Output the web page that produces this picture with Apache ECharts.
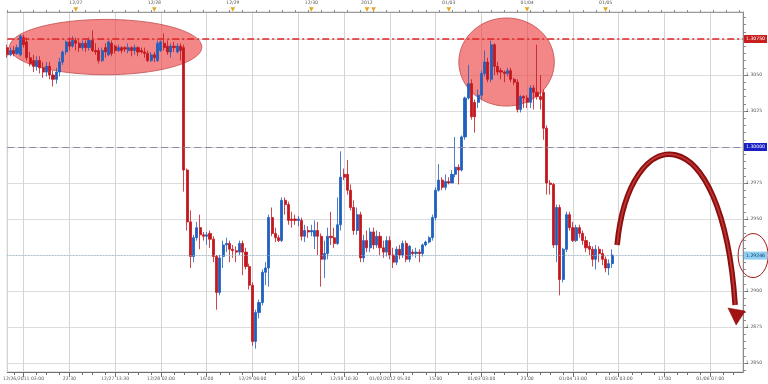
<!DOCTYPE html>
<html><head><meta charset="utf-8">
<script src="https://cdn.jsdelivr.net/npm/echarts@6/dist/echarts.min.js"></script>
<style>html,body{margin:0;padding:0;background:#fff}#c{width:768px;height:384px}</style>
</head><body><div id="c"></div>
<script>
// ---- categories (hourly bar slots) ----
const slotCount = 226;
const slots = Array.from({length: slotCount}, (_, i) => String(i));

// ---- tick labels ----
const bottomLabels = ['12/26/2011 03:00','22:30','12/27 13:30','12/28 02:00','16:00','12/29 06:00','20:30','12/30 10:30',
  '01/02/2012 05:30','15:00','01/03 03:00','23:00','01/04 13:00','01/05 03:00','17:00','01/06 07:00'];
const topDayLabels = ['12/27','12/28','12/29','12/30','2012','','01/03','01/04','01/05'];
const topDaySlots = [21,45,69,93,110,112,135,159,183];
const yGridValues = [1.2850,1.2875,1.2900,1.2925,1.2950,1.2975,1.3000,1.3025,1.3050,1.3075];
const yLabelValues = [1.2850,1.2875,1.2900,1.2950,1.2975,1.3025,1.3050];

// ---- levels ----
const resistanceLevel = 1.3075;
const pivotLevel = 1.3000;
const lastPrice = 1.29246;

// ---- candles [open, close, low, high] ----
const dec26to28 = [
[1.3069,1.3064,1.3062,1.3071],[1.3064,1.3067,1.3063,1.3069],[1.3067,1.3065,1.3063,1.3070],[1.3065,1.3069,1.3064,1.3071],
[1.3064,1.3077,1.3063,1.3078],[1.3076,1.3071,1.3069,1.3078],[1.3073,1.3062,1.3060,1.3076],[1.3062,1.3058,1.3056,1.3066],
[1.3060,1.3056,1.3052,1.3064],[1.3056,1.3060,1.3053,1.3063],[1.3060,1.3055,1.3051,1.3063],[1.3055,1.3052,1.3048,1.3059],
[1.3052,1.3056,1.3049,1.3059],[1.3056,1.3050,1.3047,1.3059],[1.3050,1.3047,1.3042,1.3053],[1.3047,1.3052,1.3044,1.3055],
[1.3052,1.3059,1.3049,1.3062],[1.3059,1.3066,1.3057,1.3067],[1.3066,1.3073,1.3064,1.3074],[1.3073,1.3070,1.3067,1.3076],
[1.3070,1.3074,1.3069,1.3077],[1.3074,1.3072,1.3067,1.3076],[1.3072,1.3069,1.3066,1.3074],[1.3069,1.3072,1.3067,1.3074],
[1.3072,1.3069,1.3066,1.3074],[1.3069,1.3074,1.3067,1.3076],[1.3074,1.3067,1.3066,1.3081],[1.3067,1.3066,1.3064,1.3072],
[1.3067,1.3060,1.3058,1.3069],[1.3060,1.3067,1.3059,1.3069],[1.3069,1.3066,1.3062,1.3072],[1.3064,1.3073,1.3063,1.3074],
[1.3072,1.3065,1.3063,1.3074],[1.3070,1.3067,1.3065,1.3071],[1.3067,1.3069,1.3066,1.3071],[1.3069,1.3067,1.3065,1.3070],
[1.3069,1.3068,1.3066,1.3070],[1.3067,1.3069,1.3065,1.3072],[1.3069,1.3067,1.3063,1.3070],[1.3067,1.3069,1.3064,1.3071],
[1.3069,1.3066,1.3063,1.3070],[1.3067,1.3066,1.3065,1.3069],[1.3066,1.3065,1.3062,1.3069],[1.3065,1.3060,1.3059,1.3067],
[1.3060,1.3064,1.3059,1.3066],[1.3064,1.3062,1.3059,1.3066],[1.3060,1.3072,1.3059,1.3074],[1.3067,1.3073,1.3066,1.3074],
[1.3072,1.3069,1.3067,1.3079],[1.3070,1.3066,1.3064,1.3074],[1.3066,1.3070,1.3062,1.3072],[1.3070,1.3069,1.3066,1.3073],
[1.3066,1.3070,1.3065,1.3072],[1.3070,1.3067,1.3060,1.3072]
];
const dec28to30 = [
[1.3069,1.2984,1.2969,1.3071],[1.2984,1.2948,1.2942,1.2985],[1.2948,1.2924,1.2916,1.2956],[1.2924,1.2937,1.2920,1.2939],
[1.2937,1.2944,1.2935,1.2948],[1.2944,1.2939,1.2929,1.2953],[1.2939,1.2938,1.2935,1.2941],[1.2938,1.2939,1.2932,1.2941],
[1.2940,1.2936,1.2930,1.2942],[1.2936,1.2924,1.2920,1.2938],[1.2924,1.2899,1.2887,1.2925],[1.2899,1.2923,1.2897,1.2925],
[1.2924,1.2932,1.2916,1.2935],[1.2932,1.2933,1.2927,1.2937],[1.2933,1.2929,1.2920,1.2935],[1.2929,1.2928,1.2923,1.2932],
[1.2928,1.2927,1.2920,1.2931],[1.2927,1.2933,1.2925,1.2935],[1.2933,1.2927,1.2911,1.2935],[1.2927,1.2917,1.2915,1.2930],
[1.2917,1.2904,1.2901,1.2919],[1.2904,1.2865,1.2862,1.2906],[1.2865,1.2885,1.2860,1.2887],[1.2885,1.2892,1.2881,1.2894],
[1.2892,1.2913,1.2890,1.2915],[1.2913,1.2916,1.2904,1.2920],[1.2916,1.2951,1.2903,1.2953],[1.2951,1.2940,1.2938,1.2958],
[1.2940,1.2937,1.2934,1.2944],[1.2937,1.2935,1.2934,1.2939],[1.2935,1.2963,1.2934,1.2965],[1.2963,1.2960,1.2953,1.2965],
[1.2960,1.2949,1.2946,1.2962],[1.2950,1.2949,1.2944,1.2955],[1.2950,1.2949,1.2946,1.2953],[1.2949,1.2950,1.2945,1.2952],
[1.2949,1.2938,1.2935,1.2951],[1.2938,1.2942,1.2934,1.2946],[1.2942,1.2941,1.2937,1.2945],[1.2941,1.2942,1.2938,1.2946],
[1.2938,1.2942,1.2929,1.2949],[1.2942,1.2938,1.2925,1.2948],[1.2938,1.2922,1.2903,1.2940],[1.2922,1.2926,1.2909,1.2935],
[1.2926,1.2938,1.2922,1.2944],[1.2938,1.2937,1.2932,1.2955],[1.2937,1.2933,1.2930,1.2944],[1.2933,1.2946,1.2932,1.2965],
[1.2946,1.2979,1.2942,1.2997],[1.2981,1.2979,1.2977,1.2985],[1.2981,1.2970,1.2967,1.2991],[1.2970,1.2958,1.2956,1.2974]
];
const dec30toJan02 = [
[1.2958,1.2942,1.2939,1.2963],[1.2942,1.2953,1.2939,1.2958],[1.2953,1.2923,1.2920,1.2955],[1.2923,1.2935,1.2920,1.2939],
[1.2935,1.2930,1.2927,1.2942],[1.2930,1.2941,1.2927,1.2944],[1.2941,1.2932,1.2929,1.2944],[1.2932,1.2938,1.2930,1.2942],
[1.2938,1.2930,1.2925,1.2941],[1.2930,1.2927,1.2923,1.2935],[1.2927,1.2935,1.2924,1.2938],[1.2935,1.2925,1.2922,1.2938],
[1.2925,1.2920,1.2916,1.2930],[1.2920,1.2929,1.2918,1.2931],[1.2929,1.2925,1.2922,1.2932],[1.2925,1.2933,1.2923,1.2935]
];
const jan02to05 = [
[1.2933,1.2922,1.2920,1.2935],[1.2922,1.2931,1.2920,1.2932],[1.2927,1.2926,1.2924,1.2929],[1.2926,1.2927,1.2923,1.2930],
[1.2927,1.2926,1.2920,1.2929],[1.2926,1.2932,1.2924,1.2933],[1.2932,1.2934,1.2931,1.2935],[1.2934,1.2937,1.2933,1.2938],
[1.2937,1.2951,1.2935,1.2953],[1.2951,1.2970,1.2949,1.2972],[1.2970,1.2977,1.2969,1.2988],[1.2977,1.2972,1.2970,1.2979],
[1.2972,1.2976,1.2970,1.2981],[1.2976,1.2975,1.2974,1.2979],[1.2975,1.2981,1.2975,1.2984],[1.2981,1.2986,1.2979,1.3007],
[1.2986,1.2984,1.2974,1.2988],[1.2984,1.3007,1.2983,1.3008],[1.3007,1.3034,1.3005,1.3035],[1.3034,1.3044,1.3033,1.3057],
[1.3044,1.3021,1.3019,1.3047],[1.3031,1.3021,1.3010,1.3033],[1.3031,1.3036,1.3027,1.3040],[1.3036,1.3051,1.3033,1.3053],
[1.3051,1.3059,1.3049,1.3067],[1.3059,1.3047,1.3045,1.3062],[1.3047,1.3071,1.3045,1.3074],[1.3071,1.3056,1.3050,1.3072],
[1.3056,1.3052,1.3050,1.3059],[1.3053,1.3052,1.3047,1.3055],[1.3052,1.3051,1.3045,1.3053],[1.3051,1.3053,1.3049,1.3055],
[1.3053,1.3047,1.3045,1.3055],[1.3047,1.3045,1.3043,1.3048],[1.3045,1.3026,1.3024,1.3047],[1.3026,1.3035,1.3024,1.3036],
[1.3035,1.3034,1.3027,1.3036],[1.3034,1.3031,1.3027,1.3036],[1.3031,1.3041,1.3027,1.3043],[1.3041,1.3038,1.3026,1.3043],
[1.3038,1.3035,1.3033,1.3071],[1.3035,1.3033,1.3026,1.3050],[1.3038,1.3013,1.3005,1.3040],[1.3013,1.2975,1.2967,1.3015],
[1.2975,1.2974,1.2967,1.2977],[1.2974,1.2932,1.2930,1.2975],[1.2932,1.2958,1.2920,1.2960],[1.2958,1.2908,1.2897,1.2960],
[1.2908,1.2929,1.2906,1.2930],[1.2929,1.2953,1.2927,1.2955],[1.2953,1.2944,1.2942,1.2955],[1.2944,1.2935,1.2934,1.2948],
[1.2935,1.2944,1.2934,1.2946],[1.2944,1.2940,1.2937,1.2946],[1.2940,1.2935,1.2932,1.2942],[1.2935,1.2930,1.2927,1.2938],
[1.2931,1.2929,1.2925,1.2934],[1.2929,1.2922,1.2917,1.2931],[1.2922,1.2929,1.2915,1.2932],[1.2929,1.2926,1.2920,1.2931],
[1.2926,1.2922,1.2918,1.2929],[1.2922,1.2916,1.2913,1.2924],[1.2916,1.2919,1.2911,1.2922],[1.2919,1.2925,1.2916,1.2929]
];
const candles = [...dec26to28, ...dec28to30, ...dec30toJan02, ...jan02to05];

// ---- annotation anchors in data space (slot, price) ----
const highlightZones = [
  {slot: 30.1, price: 1.30694, slotR: 29.4, priceR: 0.00192},
  {slot: 152.7, price: 1.30590, slotR: 14.6, priceR: 0.00306}
];
const priceTagRing = {slot: 228.1, price: lastPrice, slotR: 4.6, priceR: 0.00153};
const forecastArc = {start: [186.5, 1.29319], cp1: [190.1, 1.30188], cp2: [218.6, 1.30257], end: [222.6, 1.28903]};
const forecastHead = [[220.4, 1.28882], [225.7, 1.28861], [222.9, 1.28764]];

const yMin = 1.284375, yMax = 1.309375;
const yMinorTicks = [];
for (let v = 1.2845; v <= 1.3093; v += 0.0005) yMinorTicks.push(+v.toFixed(4));

const FONT = 'DejaVu Sans';
const labelTxt = {fontFamily: FONT, fontSize: 4.6, color: '#5a5a5a'};
const majorIdx = i => i >= 5 && (i - 5) % 14 === 0;
const minorIdx = i => i >= 0 && [0, 4, 7, 11].includes(((i - 5) % 14 + 14) % 14);

const chart = echarts.init(document.getElementById('c'), null, {renderer: 'canvas'});
chart.setOption({
  animation: false,
  backgroundColor: '#ffffff',
  grid: {left: 2, right: 25, top: 12, bottom: 12, show: true, borderColor: '#c4c4c4', borderWidth: 1},
  xAxis: [
    {type: 'category', data: slots, boundaryGap: false, position: 'bottom',
     axisLine: {lineStyle: {color: '#6e6e6e'}},
     axisTick: {interval: (i) => majorIdx(i), length: 5, lineStyle: {color: '#6e6e6e'}},
     axisLabel: Object.assign({interval: (i) => majorIdx(i), margin: 4,
        formatter: (v, i) => bottomLabels[(i - 5) / 14] || ''}, labelTxt),
     splitLine: {show: true, interval: (i) => majorIdx(i), lineStyle: {color: '#d4d4d4'}}},
    {type: 'category', data: slots, boundaryGap: false, position: 'top',
     axisLine: {lineStyle: {color: '#9a9a9a'}},
     axisTick: {interval: 3, length: 2, lineStyle: {color: '#8a8a8a'}},
     axisLabel: {interval: (i) => topDaySlots.includes(i), margin: 0,
        formatter: (v, i) => {
          const k = topDaySlots.indexOf(i);
          const t = topDayLabels[k];
          return t ? '{d|' + t + '}\n{t|▼}' : '{t|▼}';
        },
        rich: {d: {fontFamily: FONT, fontSize: 4.6, color: '#5a5a5a', lineHeight: 6},
               t: {fontFamily: FONT, fontSize: 6, color: '#e3a623', lineHeight: 6}}},
     splitLine: {show: false}},
    {type: 'category', data: slots, boundaryGap: false, position: 'bottom',
     axisLine: {show: false},
     axisTick: {interval: (i) => minorIdx(i), length: 3, lineStyle: {color: '#6e6e6e'}},
     axisLabel: {show: false}, splitLine: {show: false}}
  ],
  yAxis: [
    {type: 'value', position: 'right', min: yMin, max: yMax,
     axisLine: {show: true, lineStyle: {color: '#8a8a8a'}},
     axisTick: {show: true, customValues: yGridValues, length: 5, lineStyle: {color: '#6e6e6e'}},
     axisLabel: Object.assign({customValues: yLabelValues, margin: 3, formatter: v => v.toFixed(4)}, labelTxt),
     splitLine: {show: true, lineStyle: {color: '#dcdcdc'}}},
    {type: 'value', position: 'right', min: yMin, max: yMax,
     axisLine: {show: false},
     axisTick: {show: true, customValues: yMinorTicks, length: 3, lineStyle: {color: '#8a8a8a'}},
     axisLabel: {show: false}, splitLine: {show: false}}
  ],
  series: [{
    type: 'candlestick', data: candles, xAxisIndex: 0, yAxisIndex: 0,
    barWidth: 2.6, clip: false,
    itemStyle: {color: '#1f5fbf', color0: '#c3161d', borderColor: '#1f5fbf', borderColor0: '#c3161d', borderWidth: 0.8},
    markLine: {
      silent: true, symbol: ['none', 'none'], animation: false, precision: 5,
      label: {position: 'end', distance: 1, fontFamily: FONT, fontSize: 4.6, padding: [2, 2, 1, 2]},
      data: [
        {yAxis: resistanceLevel, lineStyle: {color: '#e02424', type: [7, 3, 2, 3], width: 1.6},
         label: {formatter: resistanceLevel.toFixed(5), backgroundColor: '#c8201e', color: '#ffffff'}},
        {yAxis: pivotLevel, lineStyle: {color: '#8a8aa8', type: [7, 4], width: 1},
         label: {formatter: pivotLevel.toFixed(5), backgroundColor: '#1b20c4', color: '#ffffff'}},
        {yAxis: lastPrice, lineStyle: {color: '#8dbcd8', type: [1, 2], width: 1},
         label: {formatter: lastPrice.toFixed(5), backgroundColor: '#8fd0f2', color: '#1a3a6a'}}
      ]
    }
  }]
});

// annotations positioned through the chart's own scales
const xA = chart.convertToPixel({xAxisIndex: 0}, '0');
const xB = chart.convertToPixel({xAxisIndex: 0}, String(slotCount - 1));
const sx = s => xA + (xB - xA) * s / (slotCount - 1);
const py = p => chart.convertToPixel({yAxisIndex: 0}, p);
const pt = ([s, p]) => [sx(s), py(p)];
const ell = (z, style, zz) => ({
  type: 'ellipse', z: zz, silent: true,
  shape: {cx: sx(z.slot), cy: py(z.price), rx: sx(z.slotR) - sx(0), ry: py(z.price - z.priceR) - py(z.price)},
  style: style
});
const [s0, c1, c2, e0] = [forecastArc.start, forecastArc.cp1, forecastArc.cp2, forecastArc.end].map(pt);
const arcShape = {x1: s0[0], y1: s0[1], cpx1: c1[0], cpy1: c1[1], cpx2: c2[0], cpy2: c2[1], x2: e0[0], y2: e0[1]};
chart.setOption({
  graphic: [
    ...highlightZones.map(z => ell(z, {fill: 'rgba(236,62,62,0.62)', stroke: '#c24848', lineWidth: 0.8}, 1)),
    ell(priceTagRing, {fill: null, stroke: '#a51b1b', lineWidth: 1}, 20),
    {type: 'bezierCurve', z: 20, silent: true, shape: arcShape, style: {stroke: '#8c0f0f', lineWidth: 5.5, fill: null, lineCap: 'butt'}},
    {type: 'bezierCurve', z: 21, silent: true, shape: arcShape, style: {stroke: '#c23636', lineWidth: 1.6, fill: null, lineCap: 'butt'}},
    {type: 'polygon', z: 21, silent: true, shape: {points: forecastHead.map(pt)}, style: {fill: '#a31212', stroke: '#8c0f0f', lineWidth: 0.5}}
  ]
});
</script>
</body></html>
